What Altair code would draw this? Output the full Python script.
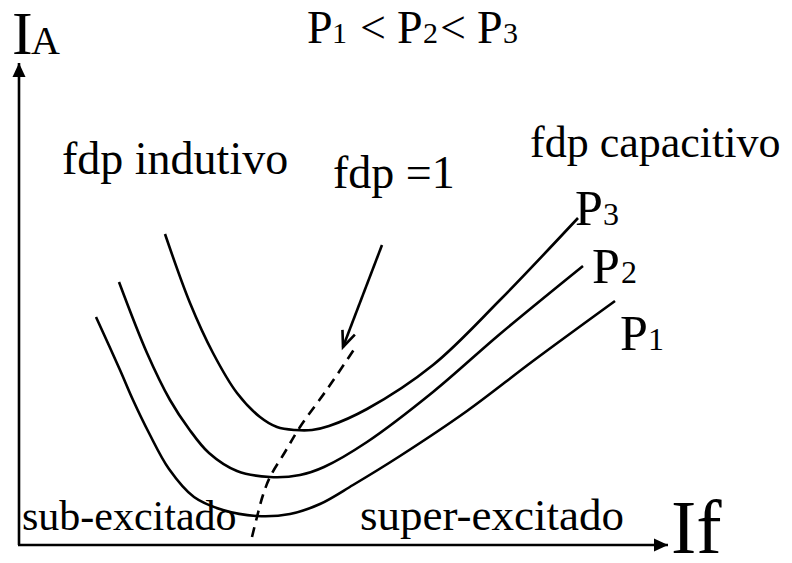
import altair as alt
import pandas as pd

# ---- data (If, IA units; origin at the axes corner) ----
p3_if = [146, 171, 194, 218, 241, 258, 276, 293, 310, 348, 414, 481, 559]
p3_ia = [311, 242, 192, 152, 128, 118, 115, 115, 119, 136, 180, 245, 327]

p2_if = [100, 128, 151, 170, 190, 218, 251, 281, 305, 348, 414, 481, 564]
p2_ia = [263, 192, 145, 116, 92, 74, 68, 70, 78, 103, 153, 211, 279]

p1_if = [77, 101, 114, 130, 150, 175, 204, 238, 271, 301, 334, 381, 448, 514, 596]
p1_ia = [228, 175, 145, 112, 76, 48, 35, 29, 31, 41, 60, 89, 134, 184, 244]

fdp1_if = [233, 239, 244, 251, 266, 281, 309, 336]
fdp1_ia = [8, 32, 50, 68, 93, 118, 157, 197]

# axes and the pointer arrow (start/end)
rule_x1 = [0, -1, 363]
rule_y1 = [0, 0, 300]
rule_x2 = [0, 649, 324]
rule_y2 = [482, 0, 198]

# arrow heads
head_x = [0, 649]
head_y = [482, 0]
head_angle = [0, 90]
pointer_x = [324]
pointer_y = [198]
pointer_angle = [21]

# text labels
label_text = ["I", "A",
              "P", "1", "<", "P", "2", "<", "P", "3",
              "fdp indutivo", "fdp =1", "fdp capacitivo",
              "P", "3", "P", "2", "P", "1",
              "sub-excitado", "super-excitado", "If"]
label_x = [-7, 12,
           288, 313, 341, 378, 404, 421, 458, 484,
           43, 314, 511,
           556, 584, 573, 602, 601, 629,
           3, 341, 652]
label_y = [491, 491,
           502, 502, 502, 502, 502, 502, 502, 502,
           371, 357, 388,
           320, 320, 262, 262, 195, 195,
           15, 15, -8]
label_size = [62, 40,
              46, 30, 46, 46, 30, 46, 46, 30,
              46, 46, 44,
              50, 32, 50, 32, 50, 32,
              42, 45, 76]

# ---- tables ----
curves = pd.DataFrame({
    "If": p3_if + p2_if + p1_if,
    "IA": p3_ia + p2_ia + p1_ia,
    "curve": ["P3"] * len(p3_if) + ["P2"] * len(p2_if) + ["P1"] * len(p1_if),
})
fdp = pd.DataFrame({"If": fdp1_if, "IA": fdp1_ia})
rules = pd.DataFrame({"x1": rule_x1, "y1": rule_y1, "x2": rule_x2, "y2": rule_y2})
heads = pd.DataFrame({"If": head_x, "IA": head_y, "angle": head_angle})
pointer = pd.DataFrame({"If": pointer_x, "IA": pointer_y, "angle": pointer_angle})
labels = pd.DataFrame({"If": label_x, "IA": label_y, "text": label_text, "size": label_size})

xs = alt.Scale(domain=[-11, 765], nice=False, zero=False)
ys = alt.Scale(domain=[-10, 537], nice=False, zero=False)

X = lambda f="If": alt.X(f"{f}:Q", scale=xs, axis=None)
Y = lambda f="IA": alt.Y(f"{f}:Q", scale=ys, axis=None)

curve_layer = alt.Chart(curves).mark_line(
    interpolate="catmull-rom", color="black", strokeWidth=2.6
).encode(x=X(), y=Y(), detail="curve:N", order="If:Q")

fdp_layer = alt.Chart(fdp).mark_line(
    interpolate="catmull-rom", color="black", strokeWidth=2.6, strokeDash=[10, 7]
).encode(x=X(), y=Y(), order="If:Q")

rule_layer = alt.Chart(rules).mark_rule(color="black", strokeWidth=2.6).encode(
    x=X("x1"), y=Y("y1"), x2="x2:Q", y2="y2:Q"
)

head_layer = alt.Chart(heads).mark_point(
    shape="M0,0L0.93,2L-0.93,2Z", filled=True, color="black", opacity=1, size=196
).encode(x=X(), y=Y(), angle=alt.Angle("angle:Q", scale=None))

pointer_layer = alt.Chart(pointer).mark_point(
    shape="M-0.42,-1L0,0L0.42,-1", filled=False, color="black", opacity=1,
    size=1000, strokeWidth=2.6
).encode(x=X(), y=Y(), angle=alt.Angle("angle:Q", scale=None))

text_layer = alt.Chart(labels).mark_text(
    align="left", baseline="alphabetic", font="Liberation Serif", color="black"
).encode(x=X(), y=Y(), text="text:N", size=alt.Size("size:Q", scale=None))

chart = alt.layer(
    curve_layer, fdp_layer, rule_layer, head_layer, pointer_layer, text_layer
).properties(
    width=776, height=547, padding=0, autosize=alt.AutoSizeParams(type="none")
).configure_view(strokeWidth=0)

chart.save("out.html", embed_options={"renderer": "svg", "actions": False})
